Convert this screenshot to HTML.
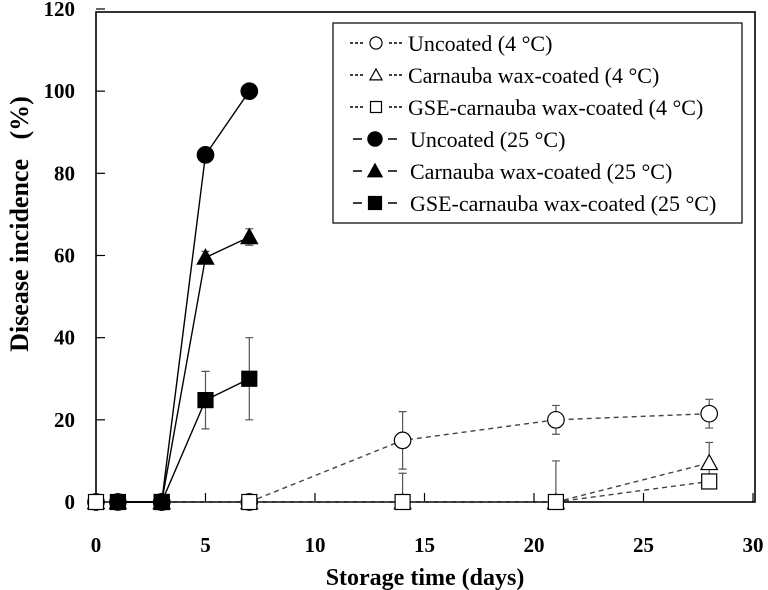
<!DOCTYPE html>
<html><head><meta charset="utf-8"><style>
html,body{margin:0;padding:0;background:#fff;}
svg{display:block;font-family:"Liberation Serif",serif;}
</style></head><body>
<svg id="chart" width="768" height="590" viewBox="0 0 768 590">
<g id="axes"></g>
<g id="series"></g>
<text x="28" y="224" transform="rotate(-90 28 224)" text-anchor="middle" font-size="26" font-weight="bold" xml:space="preserve">Disease incidence   (%)</text>
<text x="425" y="585" text-anchor="middle" font-size="24" font-weight="bold">Storage time (days)</text>
<g>
<rect x="333" y="23" width="409" height="200" fill="#fff" stroke="#000" stroke-width="1.2"/>
<g id="legend-items"></g>
</g>
</svg>
<script>
const xTicks=[0,5,10,15,20,25,30];
const yTicks=[0,20,40,60,80,100,120];
const labels=["Uncoated (4 °C)","Carnauba wax-coated (4 °C)","GSE-carnauba wax-coated (4 °C)","Uncoated (25 °C)","Carnauba wax-coated (25 °C)","GSE-carnauba wax-coated (25 °C)"];
const days4=[0,3,7,14,21,28];
const unc4=[0,0,0,15,20,21.5];
const unc4Err=[0,0,0,7,3.5,3.5];
const car4=[0,0,0,0,0,9.5];
const car4Err=[0,0,0,7,10,5];
const gse4=[0,0,0,0,0,5];
const gse4Err=[0,0,0,0,0,0];
const days25=[1,3,5,7];
const unc25=[0,0,84.5,100];
const unc25Err=[0,0,0,0];
const car25=[0,0,59.5,64.5];
const car25Err=[0,0,1.5,2];
const gse25=[0,0,24.8,30];
const gse25Err=[0,0,7,10];

const NS="http://www.w3.org/2000/svg";
const X0=96,X1=753,Y0=502,Y1=9;
const xs=d=>X0+(d-0)/(30-0)*(X1-X0);
const ys=v=>Y0-(v-0)/(120-0)*(Y0-Y1);
function mk(t,a,p){const e=document.createElementNS(NS,t);for(const k in a)e.setAttribute(k,a[k]);p.appendChild(e);return e;}
const axes=document.getElementById('axes');
const frame=mk('rect',{x:X0,y:12,width:755-X0,height:Y0-12,fill:'none',stroke:'#000','stroke-width':1.6},axes);


xTicks.forEach(t=>{
 const l=mk('line',{x1:xs(t),x2:xs(t),y1:Y0,y2:Y0-9,stroke:'#000','stroke-width':1.2},axes);
 
 
 const tx=mk('text',{x:xs(t),y:552,'text-anchor':'middle','font-size':21,'font-weight':'bold'},axes);
 tx.textContent=t;
 
 
});
yTicks.forEach(t=>{
 const l=mk('line',{x1:X0,x2:X0+9,y1:ys(t),y2:ys(t),stroke:'#000','stroke-width':1.2},axes);
 
 
 const tx=mk('text',{x:75,y:ys(t)+7,'text-anchor':'end','font-size':21,'font-weight':'bold'},axes);
 tx.textContent=t;
 
 
});
function marker(p,shape,fill,cx,cy,s){
 let e;
 if(shape==='circle')e=mk('circle',{cx,cy,r:s*0.55,fill,stroke:'#000','stroke-width':1.2},p);
 else if(shape==='tri'){const h=s*0.55;e=mk('polygon',{points:`${cx},${cy-h} ${cx-h},${cy+h*0.8} ${cx+h},${cy+h*0.8}`,fill,stroke:'#000','stroke-width':1.2},p);}
 else e=mk('rect',{x:cx-s/2,y:cy-s/2,width:s,height:s,fill,stroke:'#000','stroke-width':1.2},p);
 return e;
}
const ser=document.getElementById('series');
const defs=[
 {n:'uncoated-4c',d:days4,v:unc4,e:unc4Err,sh:'circle',f:'#fff',dash:'5,4'},
 {n:'carnauba-4c',d:days4,v:car4,e:car4Err,sh:'tri',f:'#fff',dash:'5,4'},
 {n:'gse-carnauba-4c',d:days4,v:gse4,e:gse4Err,sh:'square',f:'#fff',dash:'5,4'},
 {n:'uncoated-25c',d:days25,v:unc25,e:unc25Err,sh:'circle',f:'#000',dash:''},
 {n:'carnauba-25c',d:days25,v:car25,e:car25Err,sh:'tri',f:'#000',dash:''},
 {n:'gse-carnauba-25c',d:days25,v:gse25,e:gse25Err,sh:'square',f:'#000',dash:''}
];
defs.forEach(s=>{
 const g=mk('g',{},ser);
 
 
 const pts=s.d.map((d,i)=>xs(d)+','+ys(s.v[i])).join(' ');
 const pl=mk('polyline',{points:pts,fill:'none',stroke:s.dash?'#444':'#000','stroke-width':1.4,'stroke-dasharray':s.dash},g);
 
 
 s.d.forEach((d,i)=>{
  if(s.e[i]>0){
   const cx=xs(d),a=ys(s.v[i]+s.e[i]),b=ys(Math.max(0,s.v[i]-s.e[i]));
   const eb=mk('path',{d:`M${cx},${a}V${b}M${cx-4},${a}H${cx+4}M${cx-4},${b}H${cx+4}`,stroke:'#555','stroke-width':1.2,fill:'none'},g);
   
   
  }
 });
 s.d.forEach((d,i)=>{
  const m=marker(g,s.sh,s.f,xs(d),ys(s.v[i]),15);
  
  
 });
});
const li=document.getElementById('legend-items');
defs.forEach((s,i)=>{
 const y=43+i*32;
 const g=mk('g',{},li);
 
 
 if(s.dash){
  mk('line',{x1:350,x2:363,y1:y,y2:y,stroke:'#000','stroke-width':1.5,'stroke-dasharray':'3,2'},g);
  mk('line',{x1:389,x2:402,y1:y,y2:y,stroke:'#000','stroke-width':1.5,'stroke-dasharray':'3,2'},g);
 } else {
  mk('line',{x1:353,x2:362,y1:y,y2:y,stroke:'#000','stroke-width':1.5},g);
  mk('line',{x1:388,x2:397,y1:y,y2:y,stroke:'#000','stroke-width':1.5},g);
 }
 marker(g,s.sh,s.f,s.dash?376:375,y,s.f==='#fff'?11:13);
 const t=mk('text',{x:s.dash?408:410,y:y+8,'font-size':22},g);
 t.textContent=labels[i];
});
</script>
</body></html>
